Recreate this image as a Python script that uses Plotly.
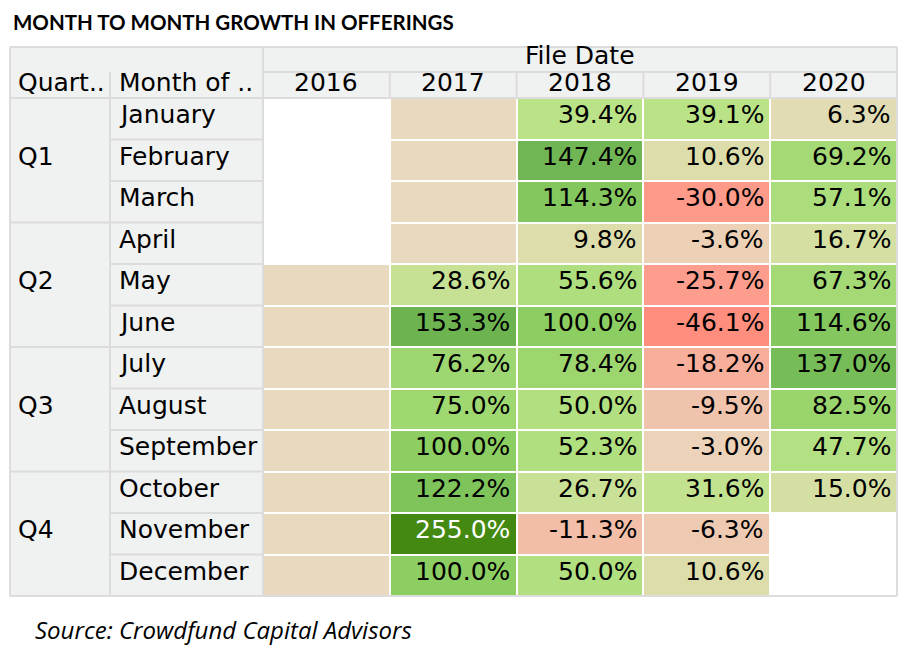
import plotly.graph_objects as go

# ---------------- data ----------------
years = ["2016", "2017", "2018", "2019", "2020"]
months = ["January", "February", "March", "April", "May", "June",
          "July", "August", "September", "October", "November", "December"]
quarters = ["Q1", "Q2", "Q3", "Q4"]

growth_2016 = [None] * 12
growth_2017 = [None, None, None, None, 28.6, 153.3, 76.2, 75.0, 100.0, 122.2, 255.0, 100.0]
growth_2018 = [39.4, 147.4, 114.3, 9.8, 55.6, 100.0, 78.4, 50.0, 52.3, 26.7, -11.3, 50.0]
growth_2019 = [39.1, 10.6, -30.0, -3.6, -25.7, -46.1, -18.2, -9.5, -3.0, 31.6, -6.3, 10.6]
growth_2020 = [6.3, 69.2, 57.1, 16.7, 67.3, 114.6, 137.0, 82.5, 47.7, 15.0, None, None]

# months that have offerings but no prior month to compare with (shown as neutral cells)
no_prior_2016 = months[4:]
no_prior_2017 = months[:4]

series = [growth_2016, growth_2017, growth_2018, growth_2019, growth_2020]
no_prior = {"2016": no_prior_2016, "2017": no_prior_2017}

# ---------------- styling ----------------
OFF = 8                      # page body margin
W, H = 917 - OFF, 655 - OFF
def fx(p): return (p - OFF) / W
def fy(p): return 1 - (p - OFF) / H

TAN = "#E9D9BE"
HDR = "#F0F1F1"
LINE = "#DCDCDC"
FONT = "DejaVu Sans"
FS = 25

zmin, zmax = -46.1, 255.0
def pos(v): return (v - zmin) / (zmax - zmin)
colorscale = [
    [0.0, "#FF8E7E"],
    [pos(-25), "#FC9E8E"],
    [pos(0), TAN],
    [pos(15), "#D6DFA3"],
    [pos(40), "#B9E387"],
    [pos(100), "#8DCE62"],
    [pos(150), "#6EB553"],
    [1.0, "#448A12"],
]

z_vals = [[series[j][i] for j in range(len(years))] for i in range(len(months))]
z_tan = [[1 if (years[j] in no_prior and months[i] in no_prior[years[j]]) else None
          for j in range(len(years))] for i in range(len(months))]

fig = go.Figure()
fig.add_trace(go.Heatmap(
    x=years, y=months, z=z_tan, colorscale=[[0, TAN], [1, TAN]],
    showscale=False, xgap=2, ygap=2, hoverinfo="skip"))
fig.add_trace(go.Heatmap(
    x=years, y=months, z=z_vals, colorscale=colorscale, zmin=zmin, zmax=zmax,
    showscale=False, xgap=2, ygap=2, hoverongaps=False))

annotations = []
for i, m in enumerate(months):
    for j, yr in enumerate(years):
        v = series[j][i]
        if v is None:
            continue
        annotations.append(dict(
            x=j + 0.465, y=i, xref="x", yref="y", text=f"{v:.1f}%",
            showarrow=False, xanchor="right", yanchor="middle", yshift=4,
            font=dict(family=FONT, size=FS, color="white" if v > 200 else "black")))
for i, m in enumerate(months):
    annotations.append(dict(
        x=fx(117), y=i, xref="paper", yref="y", text=m, showarrow=False,
        xanchor="left", yanchor="middle", yshift=4,
        font=dict(family=FONT, size=FS, color="black")))
for q, qname in enumerate(quarters):
    annotations.append(dict(
        x=fx(16), y=q * 3 + 1, xref="paper", yref="y", text=qname, showarrow=False,
        xanchor="left", yanchor="middle", yshift=4,
        font=dict(family=FONT, size=FS, color="black")))
for j, yr in enumerate(years):
    annotations.append(dict(
        x=j, y=fy(83), xref="x", yref="paper", text=yr, showarrow=False,
        xanchor="center", yanchor="middle",
        font=dict(family=FONT, size=FS, color="black")))
annotations += [
    dict(x=fx(580), y=fy(56), xref="paper", yref="paper", text="File Date",
         showarrow=False, xanchor="center", yanchor="middle",
         font=dict(family=FONT, size=FS, color="black")),
    dict(x=fx(16), y=fy(83), xref="paper", yref="paper", text="Quart..",
         showarrow=False, xanchor="left", yanchor="middle",
         font=dict(family=FONT, size=FS, color="black")),
    dict(x=fx(117), y=fy(83), xref="paper", yref="paper", text="Month of ..",
         showarrow=False, xanchor="left", yanchor="middle",
         font=dict(family=FONT, size=FS, color="black")),
    dict(x=fx(11), y=fy(22), xref="paper", yref="paper",
         text="<b>MONTH TO MONTH GROWTH IN OFFERINGS</b>",
         showarrow=False, xanchor="left", yanchor="middle",
         font=dict(family="Lato", size=20.5, color="black")),
    dict(x=fx(33), y=fy(629), xref="paper", yref="paper",
         text="<i>Source: Crowdfund Capital Advisors</i>",
         showarrow=False, xanchor="left", yanchor="middle",
         font=dict(family="Open Sans", size=24, color="black")),
]

shapes = []
def rect(x0, y0, x1, y1, fill):
    shapes.append(dict(type="rect", xref="paper", yref="paper",
                       x0=fx(x0), x1=fx(x1), y0=fy(y1), y1=fy(y0),
                       fillcolor=fill, line=dict(width=0), layer="below"))
def hline(y, x0, x1):
    shapes.append(dict(type="line", xref="paper", yref="paper",
                       x0=fx(x0), x1=fx(x1), y0=fy(y), y1=fy(y),
                       line=dict(color=LINE, width=2), layer="above"))
def vline(x, y0, y1):
    shapes.append(dict(type="line", xref="paper", yref="paper",
                       x0=fx(x), x1=fx(x), y0=fy(y0), y1=fy(y1),
                       line=dict(color=LINE, width=2), layer="above"))

TOP, HMID, HBOT, BOT = 47, 72, 98, 596
LEFT, QCOL, MCOL, RIGHT = 10, 110, 263, 897
rowh = (BOT - HBOT) / 12
colw = (RIGHT - MCOL) / 5

rect(LEFT, TOP, RIGHT, HBOT, HDR)
rect(LEFT, HBOT, MCOL, BOT, HDR)
hline(TOP, LEFT, RIGHT)
hline(HMID, MCOL, RIGHT)
hline(HBOT, LEFT, RIGHT)
hline(BOT, LEFT, RIGHT)
for k in range(1, 12):
    yy = HBOT + k * rowh
    if k % 3 == 0:
        hline(yy, LEFT, MCOL)
    else:
        hline(yy, QCOL, MCOL)
vline(LEFT, TOP, BOT)
vline(QCOL, HMID, BOT)
vline(MCOL, TOP, BOT)
vline(RIGHT, TOP, BOT)
for k in range(1, 5):
    vline(MCOL + k * colw, HMID, HBOT)

fig.update_layout(
    width=W, height=H, margin=dict(l=0, r=0, t=0, b=0),
    paper_bgcolor="white", plot_bgcolor="white",
    xaxis=dict(domain=[fx(MCOL), fx(RIGHT)], type="category",
               categoryorder="array", categoryarray=years,
               range=[-0.5, 4.5], showticklabels=False, showgrid=False,
               zeroline=False, fixedrange=True),
    yaxis=dict(domain=[fy(BOT), fy(HBOT)], type="category",
               categoryorder="array", categoryarray=months,
               range=[11.5, -0.5], showticklabels=False, showgrid=False,
               zeroline=False, fixedrange=True),
    annotations=annotations, shapes=shapes, showlegend=False,
)

fig.write_html("out.html")
